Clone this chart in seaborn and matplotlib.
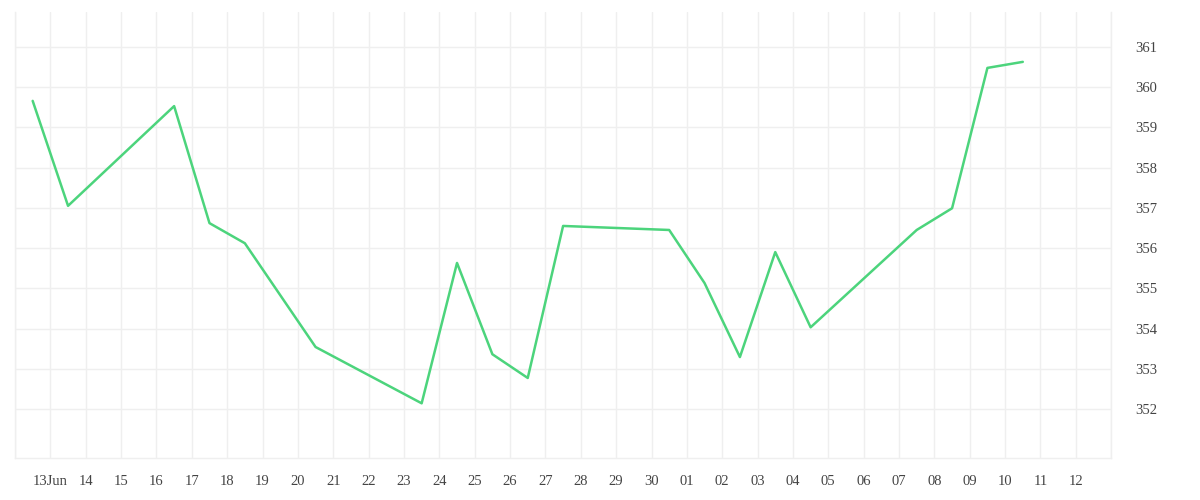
import pandas as pd
import matplotlib
matplotlib.use("Agg")
import matplotlib.pyplot as plt
import seaborn as sns

# daily closes (plotted at midday)
dates = ["2023-06-12", "2023-06-13", "2023-06-16", "2023-06-17", "2023-06-18",
         "2023-06-20", "2023-06-23", "2023-06-24", "2023-06-25", "2023-06-26",
         "2023-06-27", "2023-06-30", "2023-07-01", "2023-07-02", "2023-07-03",
         "2023-07-04", "2023-07-07", "2023-07-08", "2023-07-09", "2023-07-10"]
values = [359.66, 357.05, 359.53, 356.62, 356.12,
          353.54, 352.14, 355.63, 353.36, 352.77,
          356.55, 356.45, 355.13, 353.29, 355.90,
          354.03, 356.45, 356.99, 360.48, 360.63]
y_ticks = [352, 353, 354, 355, 356, 357, 358, 359, 360, 361]

df = pd.DataFrame({"date": pd.to_datetime(dates) + pd.Timedelta(hours=12),
                   "value": values})

sns.set_theme(style="white")
plt.rcParams["font.family"] = ["Liberation Serif", "DejaVu Serif"]

grid_c = "#efefef"
fig = plt.figure(figsize=(12, 5), dpi=100)
ax = fig.add_axes([0.0125, 0.084, 0.9135, 0.892])

sns.lineplot(data=df, x="date", y="value", ax=ax, color="#4cd47c", linewidth=1.8)

# one tick per day, first/last left unlabeled
days = pd.date_range("2023-06-12", "2023-07-13", freq="D")
labels = []
for d in days:
    if d == days[0] or d == days[-1]:
        labels.append("")
    elif d.day == 13 and d.month == 6:
        labels.append("13Jun")
    else:
        labels.append(d.strftime("%d"))
ax.set_xticks(days)
ax.set_xticklabels(labels)
ax.set_xlim(days[0], days[-1])

ax.set_yticks(y_ticks)
ax.set_ylim(350.78, 361.87)
ax.yaxis.tick_right()

ax.grid(True, color=grid_c, linewidth=1)
ax.tick_params(axis="x", length=9, color=grid_c, width=1, labelsize=10.5, labelcolor="#444444", pad=3)
ax.tick_params(axis="y", length=0, labelsize=10.5, labelcolor="#444444", pad=17)
ax.spines["top"].set_visible(False)
for s in ["left", "right", "bottom"]:
    ax.spines[s].set_color(grid_c)
    ax.spines[s].set_linewidth(1)
ax.set_xlabel("")
ax.set_ylabel("")

fig.savefig("out.png", dpi=100)
